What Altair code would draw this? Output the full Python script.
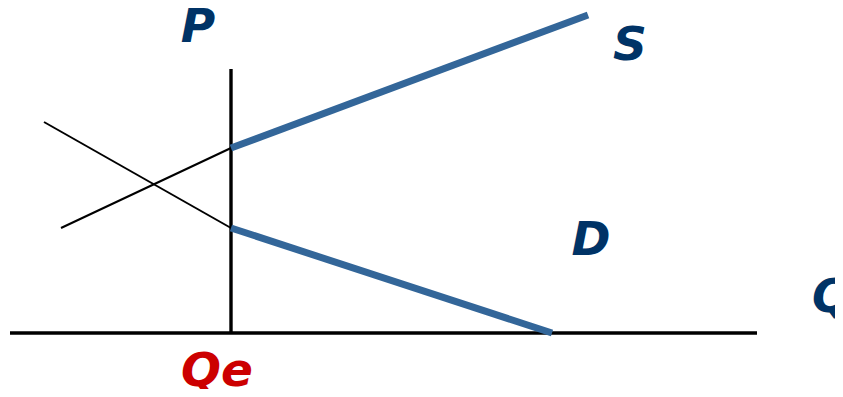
import altair as alt
import pandas as pd

# Segment data (units: arbitrary diagram units, origin at axis intersection)
seg_names = ["q_axis", "p_axis", "supply", "demand", "supply_ext", "demand_ext"]
seg_x1 = [-22.1, 0.0, 0.0, 0.0, -17.0, -18.7]
seg_y1 = [0.0, 0.0, 18.5, 10.5, 10.5, 21.1]
seg_x2 = [52.6, 0.0, 35.7, 32.1, 0.0, 0.0]
seg_y2 = [0.0, 26.4, 31.8, 0.0, 18.5, 10.5]
seg_kind = ["axis", "axis", "curve", "curve", "ext", "ext"]

label_text = ["P", "S", "D", "Q", "Qe"]
label_x = [-3.3, 39.9, 36.0, 58.1, -1.4]
label_y = [29.1, 27.3, 7.8, 2.1, -5.3]
label_kind = ["navy", "navy", "navy", "navy_left", "red"]

segs = pd.DataFrame({"name": seg_names, "x": seg_x1, "y": seg_y1,
                     "x2": seg_x2, "y2": seg_y2, "kind": seg_kind})
labels = pd.DataFrame({"text": label_text, "x": label_x, "y": label_y, "kind": label_kind})

xs = alt.Scale(domain=[-22.3, 60.4], nice=False, zero=False)
ys = alt.Scale(domain=[-5.6, 32.5], nice=False, zero=False)

def rules(kind, color, width):
    return alt.Chart(segs).transform_filter(alt.datum.kind == kind).mark_rule(
        color=color, strokeWidth=width, strokeCap="butt", clip=False
    ).encode(
        x=alt.X("x:Q", scale=xs, axis=None),
        y=alt.Y("y:Q", scale=ys, axis=None),
        x2="x2:Q", y2="y2:Q",
    )

def texts(kind, color, align):
    return alt.Chart(labels).transform_filter(alt.datum.kind == kind).mark_text(
        color=color, font="DejaVu Sans", fontSize=47, fontWeight="bold",
        fontStyle="italic", align=align, baseline="alphabetic", clip=False
    ).encode(
        x=alt.X("x:Q", scale=xs, axis=None),
        y=alt.Y("y:Q", scale=ys, axis=None),
        text="text:N",
    )

chart = alt.layer(
    rules("ext", "#000000", 2),
    rules("axis", "#000000", 3.4),
    rules("curve", "#336699", 7),
    texts("navy", "#003366", "center"),
    texts("navy_left", "#003366", "left"),
    texts("red", "#CC0000", "center"),
).properties(
    width=827, height=381, padding=0, autosize=alt.AutoSizeParams(type="none")
).configure_view(stroke=None)

chart.save("out.html", embed_options={"renderer": "svg", "actions": False})
